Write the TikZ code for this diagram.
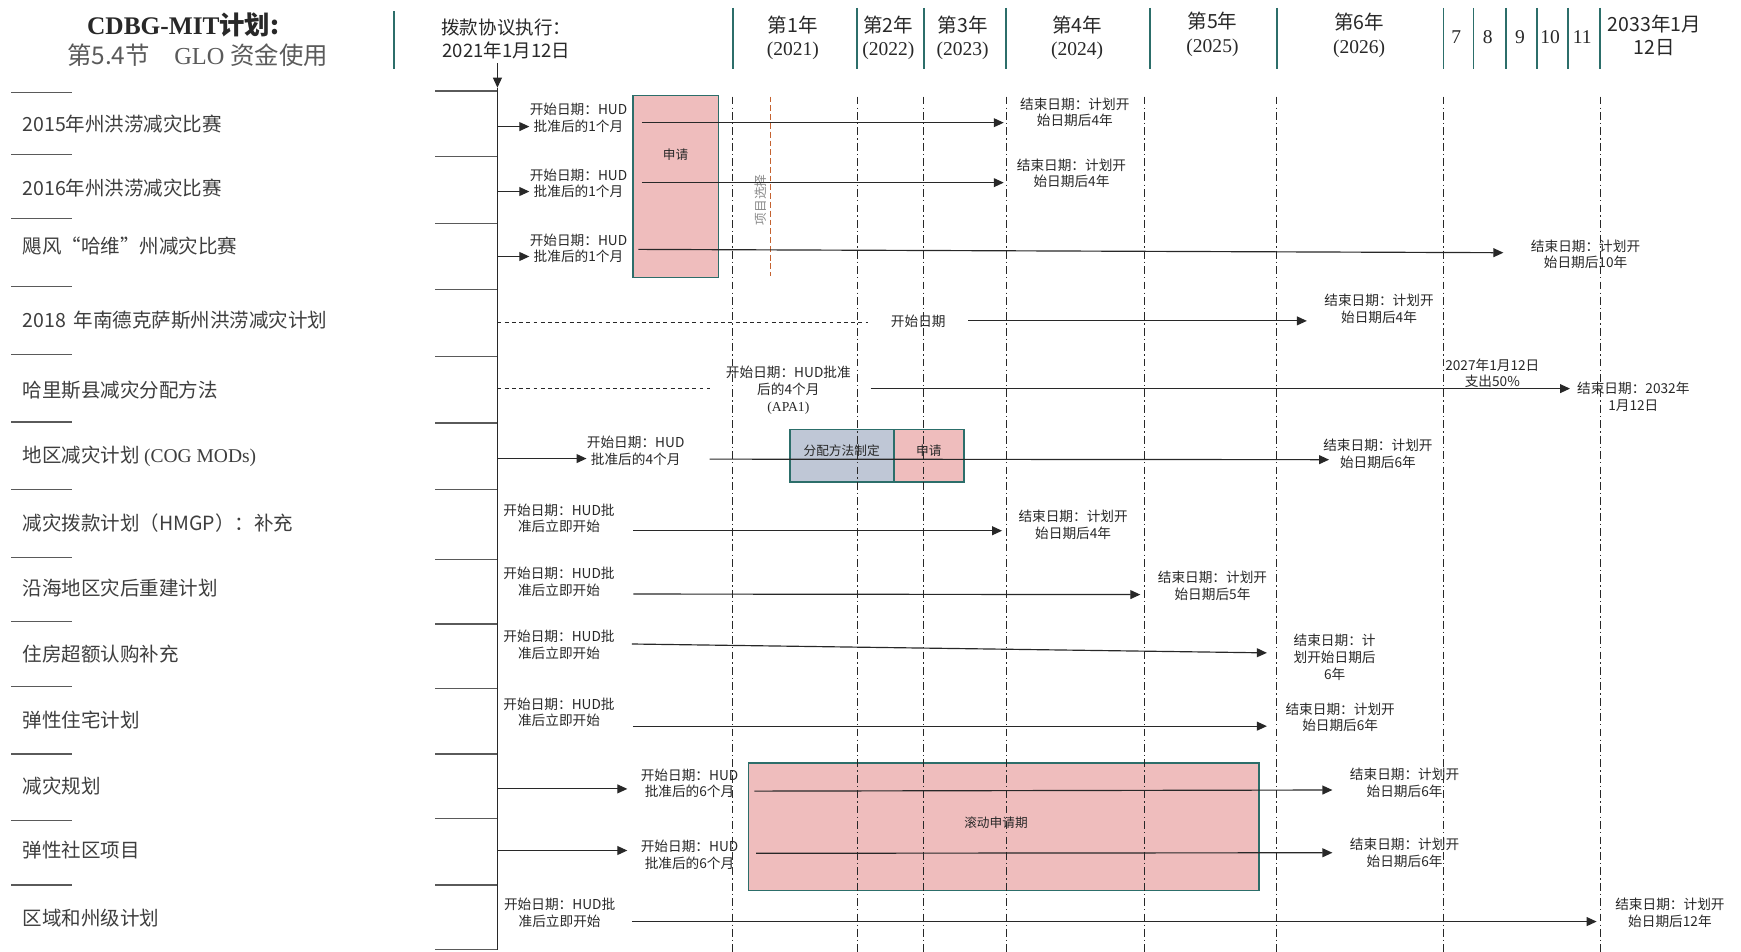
\documentclass[tikz,border=0pt]{standalone}
\usepackage{fontspec}
\setmainfont{Liberation Serif}
\newfontfamily\cjk{Noto Sans CJK SC}
\usepackage{xcolor}
\definecolor{glteal}{RGB}{44,110,106}
\definecolor{glpink}{RGB}{239,189,189}
\definecolor{glslate}{RGB}{191,199,214}
\definecolor{glrust}{RGB}{196,98,48}
\definecolor{glink}{RGB}{40,40,40}
\definecolor{gltext}{RGB}{62,62,62}
\definecolor{glgray}{RGB}{90,90,90}
\usepackage{tikz}
\usetikzlibrary{arrows.meta}

\tikzset{
  rowlbl/.style={anchor=west, inner sep=0pt, text=gltext, font=\cjk\fontsize{10}{12}\selectfont},
  tlnote/.style={inner sep=0pt, align=center, text=glink, font=\cjk\fontsize{7}{8.5}\selectfont},
  yrlbl/.style={inner sep=0pt, align=center, text=glink, font=\fontsize{10}{12.2}\selectfont},
  boxlbl/.style={inner sep=0pt, text=glink, font=\cjk\fontsize{6.5}{8}\selectfont},
  sepline/.style={draw=glgray, line width=0.6pt},
  tealline/.style={draw=glteal, line width=0.9pt},
  gridline/.style={draw=glink, line width=0.45pt, dash pattern=on 4pt off 1.6pt on 0.7pt off 1.6pt},
  dashline/.style={draw=glink, line width=0.5pt, dash pattern=on 2pt off 1.7pt},
  tlarrow/.style={draw=glink, line width=0.6pt, -{Triangle[length=1.8mm, width=1.6mm]}},
}

\begin{document}
\begin{tikzpicture}[x=0.2mm, y=-0.2mm]
\path[use as bounding box, fill=white] (0,0) rectangle (1568,857);

% === Header ===
\node[inner sep=0pt, text=glink, font=\fontsize{13}{15}\selectfont\bfseries] (title) at (165,22) {CDBG-MIT{\cjk 计划:}};
\node[inner sep=0pt, text=glgray, font=\fontsize{12.5}{15}\selectfont] (subtitle) at (178,50) {{\cjk 第5.4节}\quad GLO {\cjk 资金使用}};
\draw[tealline] (355,10) -- (355,62);

\node[inner sep=0pt, align=center, text=glink, font=\cjk\fontsize{9.5}{12}\selectfont] (exec) at (456,35) {拨款协议执行：\\2021年1月12日};
\coordinate (t0) at (448,79);
\coordinate (t1) at (448,856);
\draw[tlarrow, shorten <=2pt] (exec.south -| t0) -- (t0);

% year columns
\foreach \x in {660,772,832,906,1036,1150,1300,1327,1356,1384,1412,1441}
  \draw[tealline] (\x,7) -- (\x,62);
\node[yrlbl] (yr1) at (714,34) {{\cjk 第1年}\\(2021)};
\node[yrlbl] (yr2) at (800,34) {{\cjk 第2年}\\(2022)};
\node[yrlbl] (yr3) at (867,34) {{\cjk 第3年}\\(2023)};
\node[yrlbl] (yr4) at (970,34) {{\cjk 第4年}\\(2024)};
\node[yrlbl] (yr5) at (1092,31) {{\cjk 第5年}\\(2025)};
\node[yrlbl] (yr6) at (1224,32) {{\cjk 第6年}\\(2026)};
\foreach \x/\n in {1311.5/7,1340/8,1369/9,1396/10,1425/11}
  \node[yrlbl] (yr\n) at (\x,33) {\n};
\node[yrlbl, font=\cjk\fontsize{10}{12.2}\selectfont] (yrend) at (1490,32) {2033年1月\\12日};

% === Left column: programmes ===
\foreach \y in {83,139,197,258,319,380,441,502,560,618,679,739,797}
  \draw[sepline] (10,\y) -- (65,\y);
\foreach \y in {82,141,201,261,321,381,441,504,562,620,679,737,797,855}
  \draw[sepline] (392,\y) -- (448,\y);

\foreach \y/\t [count=\i] in {112/2015年州洪涝减灾比赛, 169/2016年州洪涝减灾比赛,
    222/{飓风“哈维”州减灾比赛}, 288/{2018\, 年南德克萨斯州洪涝减灾计划},
    351/哈里斯县减灾分配方法, 411/{地区减灾计划 \textrm{(COG MODs)}},
    471/减灾拨款计划（HMGP）：补充, 530/沿海地区灾后重建计划,
    589/住房超额认购补充, 648/弹性住宅计划, 708/减灾规划,
    766/弹性社区项目, 827/区域和州级计划}
  \node[rowlbl] (row\i) at (20,\y) {\t};

% === Boxes (under the lines) ===
\draw[draw=glteal, fill=glpink, line width=0.8pt] (570,86) rectangle (647,250);
\node[boxlbl] (apply1) at (608.5,139) {申请};
\draw[draw=glteal, fill=glslate, line width=0.8pt] (711.5,387) rectangle (805,434);
\draw[draw=glteal, fill=glpink, line width=0.8pt] (805,387) rectangle (868,434);
\node[boxlbl] (method) at (758,406) {分配方法制定};
\node[boxlbl] (apply2) at (836.5,406) {申请};
\draw[draw=glteal, fill=glpink, line width=0.8pt] (674,687) rectangle (1134,802);
\node[boxlbl] (rolling) at (897,741) {滚动申请期};

% === Grid ===
\foreach \x in {660,772,832,906,1031,1150,1300,1441.5}
  \draw[gridline] (\x,87) -- (\x,857);
\draw[draw=glrust, line width=0.7pt, dash pattern=on 3pt off 1.5pt] (694,87) -- (694,249);
\node[boxlbl, text=glgray!70, rotate=90] (select) at (685,180) {项目选择};

\draw[draw=glink, line width=0.8pt] (t0) -- (t1);

% === Rows ===
% Row 1
\coordinate (s1) at (448,114);
\node[tlnote] (b1) at (521,106) {开始日期：HUD\\批准后的1个月};
\draw[tlarrow] (s1) -- (s1 -| b1.west);
\coordinate (p1) at (578,110.5);
\coordinate (q1) at (904,110.5);
\draw[tlarrow] (p1) -- (q1);
\node[tlnote] (f1) at (968,101) {结束日期：计划开\\始日期后4年};

% Row 2
\coordinate (s2) at (448,172.5);
\node[tlnote] (b2) at (521,165) {开始日期：HUD\\批准后的1个月};
\draw[tlarrow] (s2) -- (s2 -| b2.west);
\coordinate (p2) at (578,164.5);
\coordinate (q2) at (904,164.5);
\draw[tlarrow] (p2) -- (q2);
\node[tlnote] (f2) at (965,156) {结束日期：计划开\\始日期后4年};

% Row 3
\coordinate (s3) at (448,231);
\node[tlnote] (b3) at (521,223.5) {开始日期：HUD\\批准后的1个月};
\draw[tlarrow] (s3) -- (s3 -| b3.west);
\coordinate (p3) at (575,224.6);
\coordinate (q3) at (1354,227.6);
\draw[tlarrow] (p3) -- (q3);
\node[tlnote] (f3) at (1428,229) {结束日期：计划开\\始日期后10年};

% Row 4
\coordinate (s4) at (448,290);
\coordinate (d4) at (782,290);
\draw[dashline] (s4) -- (d4);
\node[tlnote] (m4) at (827,289) {开始日期};
\coordinate (p4) at (872,289);
\coordinate (q4) at (1177,289);
\draw[tlarrow] (p4) -- (q4);
\node[tlnote] (f4) at (1242,278) {结束日期：计划开\\始日期后4年};

% Row 5
\coordinate (s5) at (448,350);
\coordinate (d5) at (639,350);
\draw[dashline] (s5) -- (d5);
\node[tlnote] (m5) at (710,351.5) {开始日期：HUD批准\\后的4个月\\\textrm{(APA1)}};
\coordinate (p5) at (784,350);
\coordinate (q5) at (1414,350);
\draw[tlarrow] (p5) -- (q5);
\node[tlnote] (k5) at (1344,336) {2027年1月12日\\支出50\%};
\node[tlnote] (f5) at (1471,357.5) {结束日期：2032年\\1月12日};

% Row 6
\coordinate (s6) at (448,413);
\node[tlnote] (b6) at (572.5,406) {开始日期：HUD\\批准后的4个月};
\draw[tlarrow] (s6) -- (s6 -| b6.west);
\coordinate (p6) at (639,413.5);
\coordinate (q6) at (1197,414);
\draw[tlarrow] (p6) -- (q6);
\node[tlnote] (f6) at (1241,408.5) {结束日期：计划开\\始日期后6年};

% Row 7
\node[tlnote] (b7) at (503.5,467) {开始日期：HUD批\\准后立即开始};
\coordinate (p7) at (570.5,478);
\coordinate (q7) at (902.5,478);
\draw[tlarrow] (p7) -- (q7);
\node[tlnote] (f7) at (966.5,472.5) {结束日期：计划开\\始日期后4年};

% Row 8
\node[tlnote] (b8) at (503.5,524) {开始日期：HUD批\\准后立即开始};
\coordinate (p8) at (570.5,535);
\coordinate (q8) at (1027,535.5);
\draw[tlarrow] (p8) -- (q8);
\node[tlnote] (f8) at (1092,527.5) {结束日期：计划开\\始日期后5年};

% Row 9
\node[tlnote] (b9) at (503.5,581) {开始日期：HUD批\\准后立即开始};
\coordinate (p9) at (569,580);
\coordinate (q9) at (1141,588);
\draw[tlarrow] (p9) -- (q9);
\node[tlnote] (f9) at (1202,592) {结束日期：计\\划开始日期后\\6年};

% Row 10
\node[tlnote] (b10) at (503.5,641.5) {开始日期：HUD批\\准后立即开始};
\coordinate (p10) at (570,654);
\coordinate (q10) at (1141,654);
\draw[tlarrow] (p10) -- (q10);
\node[tlnote] (f10) at (1207,646) {结束日期：计划开\\始日期后6年};

% Row 11
\coordinate (s11) at (448,710.5);
\coordinate (r11) at (565,710.5);
\draw[tlarrow] (s11) -- (r11);
\node[tlnote] (b11) at (621,705.5) {开始日期：HUD\\批准后的6个月};
\coordinate (p11) at (679.5,712.5);
\coordinate (q11) at (1200,711.5);
\draw[tlarrow] (p11) -- (q11);
\node[tlnote] (f11) at (1265,705) {结束日期：计划开\\始日期后6年};

% Row 12
\coordinate (s12) at (448,766);
\coordinate (r12) at (565,766);
\draw[tlarrow] (s12) -- (r12);
\node[tlnote] (b12) at (621,770) {开始日期：HUD\\批准后的6个月};
\coordinate (p12) at (681,768.5);
\coordinate (q12) at (1200,768);
\draw[tlarrow] (p12) -- (q12);
\node[tlnote] (f12) at (1265,768) {结束日期：计划开\\始日期后6年};

% Row 13
\node[tlnote] (b13) at (504,822) {开始日期：HUD批\\准后立即开始};
\coordinate (p13) at (569,830);
\coordinate (q13) at (1438,830);
\draw[tlarrow] (p13) -- (q13);
\node[tlnote] (f13) at (1504,822) {结束日期：计划开\\始日期后12年};

\end{tikzpicture}
\end{document}
